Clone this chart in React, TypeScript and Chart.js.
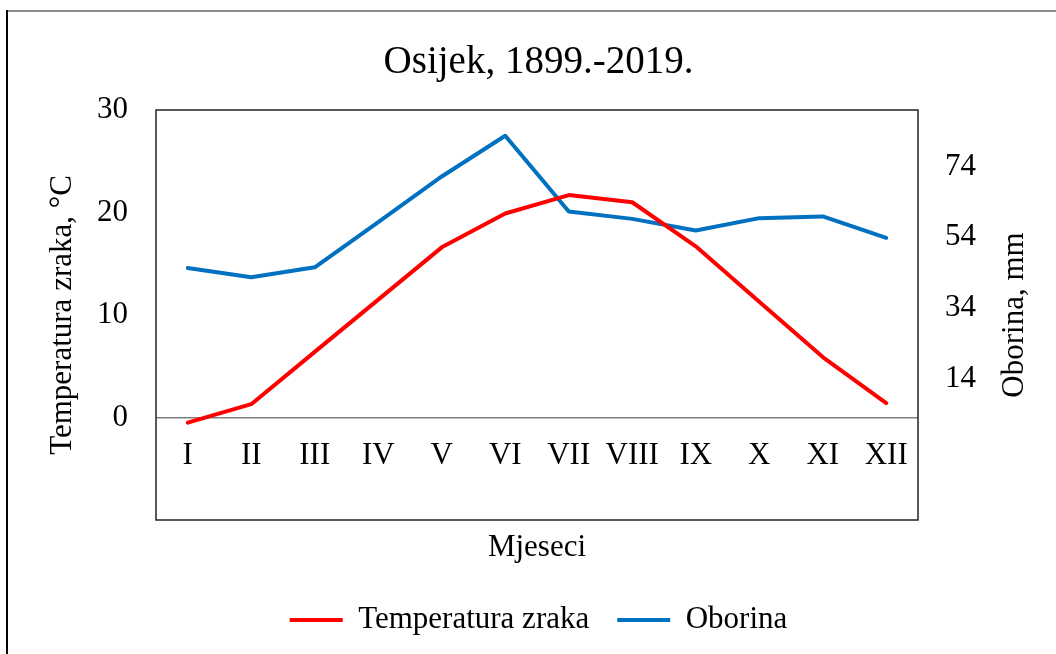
import React, { useEffect, useRef } from "react";
import { Chart, registerables } from "chart.js";

Chart.register(...registerables);

const months = ["I", "II", "III", "IV", "V", "VI", "VII", "VIII", "IX", "X", "XI", "XII"];
const temperature = [-0.5, 1.3, 6.4, 11.5, 16.6, 19.9, 21.7, 21.0, 16.7, 11.3, 5.9, 1.4];
const precipitation = [45.3, 42.7, 45.5, 58.3, 71.2, 82.7, 61.3, 59.2, 55.9, 59.4, 59.9, 53.8];
const tempTicks = [0, 10, 20, 30];
const precipTicks = [14, 34, 54, 74];

const FONT = "'Liberation Serif', 'Times New Roman', serif";

const decor = {
  id: "decor",
  beforeDraw(chart: any) {
    const ctx = chart.ctx;
    ctx.save();
    ctx.fillStyle = "#ffffff";
    ctx.fillRect(0, 0, chart.width, chart.height);
    ctx.fillStyle = "#8c8c8c";
    ctx.fillRect(7, 10, chart.width - 7, 2);
    ctx.fillStyle = "#000000";
    ctx.fillRect(6, 10, 2, chart.height - 10);
    ctx.restore();
  },
  beforeDatasetsDraw(chart: any) {
    const { ctx, chartArea } = chart;
    ctx.save();
    ctx.strokeStyle = "#222222";
    ctx.lineWidth = 1.5;
    ctx.strokeRect(chartArea.left, chartArea.top, chartArea.right - chartArea.left, chartArea.bottom - chartArea.top);
    // month labels next to the zero line of the temperature axis
    const xs = chart.scales.x;
    const ys = chart.scales.y;
    const y0 = ys.getPixelForValue(0);
    ctx.font = `31px ${FONT}`;
    ctx.fillStyle = "#000";
    ctx.textAlign = "center";
    ctx.textBaseline = "middle";
    months.forEach((m, i) => {
      ctx.fillText(m, xs.getPixelForValue(i), y0 + 38);
    });
    ctx.restore();
  },
  afterDraw(chart: any) {
    const { ctx, chartArea } = chart;
    const s = chart.scales.y2;
    ctx.save();
    ctx.translate(s.right - 41, (chartArea.top + chartArea.bottom) / 2);
    ctx.rotate(-Math.PI / 2);
    ctx.font = `31px ${FONT}`;
    ctx.fillStyle = "#000";
    ctx.textAlign = "center";
    ctx.textBaseline = "middle";
    ctx.fillText("Oborina, mm", 0, 0);
    ctx.restore();
  },
};

export default function App() {
  const ref = useRef<HTMLCanvasElement | null>(null);
  useEffect(() => {
    if (!ref.current) return;
    const chart = new Chart(ref.current, {
      type: "line",
      data: {
        labels: months,
        datasets: [
          {
            label: "Temperatura zraka",
            data: temperature,
            yAxisID: "y",
            borderColor: "#ff0000",
            backgroundColor: "#ff0000",
            borderWidth: 4,
            borderCapStyle: "round",
            borderJoinStyle: "round",
            pointRadius: 0,
            tension: 0,
          },
          {
            label: "Oborina",
            data: precipitation,
            yAxisID: "y2",
            borderColor: "#0070c0",
            backgroundColor: "#0070c0",
            borderWidth: 4,
            borderCapStyle: "round",
            borderJoinStyle: "round",
            pointRadius: 0,
            tension: 0,
          },
        ],
      },
      plugins: [decor],
      options: {
        animation: false,
        responsive: true,
        maintainAspectRatio: false,
        layout: { padding: { left: 21, right: 0, top: 0, bottom: 8.5 } },
        plugins: {
          title: {
            display: true,
            text: "Osijek, 1899.-2019.",
            color: "#000",
            font: { family: FONT, size: 39, weight: "normal" },
            padding: { top: 39, bottom: 24.2 },
          },
          legend: {
            position: "bottom",
            labels: {
              usePointStyle: true,
              pointStyle: "line",
              pointStyleWidth: 53,
              padding: 28,
              color: "#000",
              font: { family: FONT, size: 31 },
            },
          },
          tooltip: { enabled: false },
        },
        scales: {
          x: {
            type: "category",
            offset: true,
            grid: { display: false, drawTicks: false },
            border: { display: false },
            ticks: { display: false },
            title: {
              display: true,
              text: "Mjeseci",
              color: "#000",
              font: { family: FONT, size: 31 },
              padding: { top: 0, bottom: 10 },
            },
            afterFit: (s: any) => {
              s.height = 56.5;
            },
          },
          y: {
            position: "left",
            min: -10,
            max: 30,
            afterBuildTicks: (s: any) => {
              s.ticks = tempTicks.map((v) => ({ value: v }));
            },
            grid: {
              drawTicks: false,
              color: (c: any) => (c.tick && c.tick.value === 0 ? "#808080" : "rgba(0,0,0,0)"),
              lineWidth: 1.5,
            },
            border: { display: false },
            ticks: {
              color: "#000",
              font: { family: FONT, size: 31 },
              padding: 28,
            },
            title: {
              display: true,
              text: "Temperatura zraka, °C",
              color: "#000",
              font: { family: FONT, size: 31 },
              padding: { top: 23.4, bottom: 0 },
            },
            afterFit: (s: any) => {
              s.width = 135;
            },
          },
          y2: {
            position: "right",
            min: -26,
            max: 90,
            afterBuildTicks: (s: any) => {
              s.ticks = precipTicks.map((v) => ({ value: v }));
            },
            grid: { display: false, drawTicks: false },
            border: { display: false },
            ticks: {
              color: "#000",
              font: { family: FONT, size: 31 },
              padding: 27,
            },
            afterFit: (s: any) => {
              s.width = 138;
            },
          },
        },
      },
    } as any);
    return () => chart.destroy();
  }, []);
  return (
    <div style={{ position: "absolute", left: 0, top: 0, width: 1056, height: 654 }}>
      <canvas ref={ref} />
    </div>
  );
}
